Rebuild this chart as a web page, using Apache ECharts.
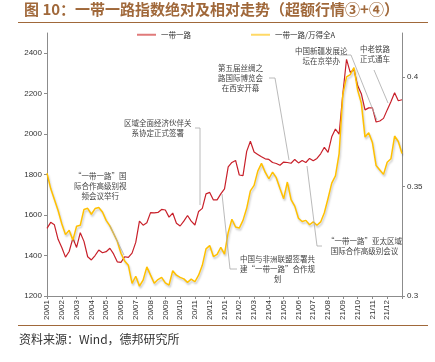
<!DOCTYPE html>
<html><head><meta charset="utf-8">
<script src="https://cdn.jsdelivr.net/npm/echarts@6/dist/echarts.min.js"></script>
<style>html,body{margin:0;padding:0;background:#fff}#c{width:435px;height:362px}</style>
</head><body><div id="c"></div>
<script>
const monthLabels = ['20/01','20/02','20/03','20/04','20/05','20/06','20/07','20/08','20/09','20/10','20/11','20/12',
  '21/01','21/02','21/03','21/04','21/05','21/06','21/07','21/08','21/09','21/10','21/11','21/12','22/01'];
const seriesNames = ['一带一路', '一带一路/万得全A'];
// weekly readings (4 per month)
const beltRoad = [1534,1564,1552,1480,1440,1392,1420,1486,1440,1513,1470,1394,1378,1400,1427,1414,1419,1436,1408,1369,
  1366,1394,1391,1412,1465,1570,1550,1562,1612,1611,1613,1628,1625,1590,1610,1560,1546,1570,1598,1570,
  1551,1618,1633,1705,1712,1675,1675,1705,1730,1838,1860,1870,1798,1795,1915,1965,1912,1900,1888,1878,
  1875,1860,1855,1846,1862,1860,1856,1875,1858,1870,1860,1880,1868,1880,1903,1935,1910,1987,2025,2000,
  2200,2370,2305,2320,2240,2200,2120,2130,2130,2060,2065,2078,2120,2160,2205,2165,2170];
const relative = [0.3560,0.3490,0.3440,0.3390,0.3330,0.3280,0.3300,0.3255,0.3318,0.3323,0.3395,0.3400,0.3373,0.3399,0.3404,0.3383,0.3345,0.3320,0.3285,0.3250,
  0.3195,0.3160,0.3140,0.3058,0.3090,0.3045,0.3073,0.3133,0.3095,0.3058,0.3075,0.3085,0.3060,0.3050,0.3115,0.3095,0.3085,0.3078,0.3062,0.3077,
  0.3065,0.3095,0.3140,0.3215,0.3230,0.3180,0.3190,0.3222,0.3191,0.3290,0.3350,0.3315,0.3310,0.3345,0.3400,0.3480,0.3505,0.3570,0.3605,0.3565,
  0.3535,0.3565,0.3540,0.3490,0.3444,0.3520,0.3440,0.3410,0.3355,0.3340,0.3345,0.3325,0.3338,0.3323,0.3338,0.3380,0.3445,0.3515,0.3548,0.3650,
  0.3920,0.4000,0.4010,0.4042,0.3940,0.3880,0.3725,0.3745,0.3700,0.3595,0.3575,0.3555,0.3610,0.3626,0.3730,0.3705,0.3650];
const leftTicks = {min:1200, max:2500, interval:200};
const rightTicks = {min:0.3, max:0.42, interval:0.05};

const cats = beltRoad.map((v,i)=> i%4===0 ? monthLabels[i/4] : '');
const FONT = '"Noto Sans CJK SC", sans-serif';
const gray = '#8c8c8c';
const annColor = '#444';
function annText(x, y, lines, align){
  return {type:'text', left:x, top:y, style:{text:lines.join('\n'), font:'7.5px '+FONT, fill:annColor, lineHeight:10, textAlign:align||'center'}, z:10};
}
function leader(points){
  return {type:'polyline', shape:{points:points}, style:{stroke:'#a8a8a8', lineWidth:0.8, fill:null}, z:9};
}
const chart = echarts.init(document.getElementById('c'));
chart.setOption({
  animation:false,
  textStyle:{fontFamily:FONT},
  title:{text:'图 10：一带一路指数绝对及相对走势（超额行情③+④）', left:19, top:-3,
    textStyle:{fontSize:15, fontWeight:'bold', color:'#a0683a', fontFamily:FONT}},
  legend:{top:26, left:132, itemWidth:19, itemHeight:2, itemGap:60, icon:'rect',
    textStyle:{fontSize:7.5, color:'#333', fontFamily:FONT}, data:seriesNames},
  grid:{left:47, right:33, top:33, bottom:66},
  xAxis:{type:'category', data:cats, boundaryGap:false,
    axisLine:{lineStyle:{color:gray}},
    axisTick:{interval:(i)=>i%4===0, length:3, lineStyle:{color:gray}},
    axisLabel:{interval:(i)=>i%4===0 && i<96, rotate:90, fontSize:8, color:'#333', fontFamily:'Liberation Sans, Arial', margin:4}},
  yAxis:[
    {type:'value', min:leftTicks.min, max:leftTicks.max, interval:leftTicks.interval, splitLine:{show:false},
      axisLine:{show:true, lineStyle:{color:gray}}, axisTick:{show:true, length:3, lineStyle:{color:gray}},
      axisLabel:{showMaxLabel:false, fontSize:8, color:'#333', fontFamily:'Liberation Sans, Arial', margin:5, formatter:(v)=>String(v)}},
    {type:'value', min:rightTicks.min, max:rightTicks.max, interval:rightTicks.interval, splitLine:{show:false},
      axisLine:{show:true, lineStyle:{color:gray}}, axisTick:{show:true, length:3, lineStyle:{color:gray}},
      axisLabel:{showMaxLabel:false, fontSize:8, color:'#333', fontFamily:'Liberation Sans, Arial', margin:5}}
  ],
  series:[
    {name:seriesNames[0], type:'line', yAxisIndex:0, data:beltRoad, symbol:'none', smooth:false,
      lineStyle:{color:'#c8202a', width:1.2}, itemStyle:{color:'#e07a7a'}},
    {name:seriesNames[1], type:'line', yAxisIndex:1, data:relative, symbol:'none', smooth:false,
      lineStyle:{color:'#ffc000', width:1.5, shadowColor:'rgba(0,0,0,0.22)', shadowBlur:2, shadowOffsetX:1, shadowOffsetY:2},
      itemStyle:{color:'#ffd966'}}
  ],
  graphic:[
    {type:'line', shape:{x1:18, y1:22.5, x2:428, y2:22.5}, style:{stroke:'#a0683a', lineWidth:1.2}},
    {type:'line', shape:{x1:18, y1:325.5, x2:428, y2:325.5}, style:{stroke:'#a0683a', lineWidth:1.2}},
    {type:'text', left:19, top:333, style:{text:'资料来源：Wind，德邦研究所', font:'12px '+FONT, fill:'#333'}},
    annText(74, 171, ['“一带一路”国','际合作高级别视','频会议举行']),
    leader([[110,226],[124,255]]),
    annText(124, 118, ['区域全面经济伙伴关','系协定正式签署']),
    leader([[195,128],[200,128],[200,205]]),
    annText(218, 63, ['第五届丝绸之','路国际博览会','在西安开幕']),
    leader([[269,78],[275,78],[289,160]]),
    annText(295, 46, ['中国新疆发展论','坛在京举办']),
    leader([[340,55],[351,55],[377,120]]),
    annText(360, 44, ['中老铁路','正式通车']),
    leader([[374,70],[388,103]]),
    annText(240, 254, ['中国与非洲联盟签署共','建“一带一路”合作规','划']),
    leader([[237,269],[230,269],[222,194]]),
    annText(327, 236, ['“一带一路”亚太区域','国际合作高级别会议']),
    leader([[322,246],[317,246],[307,166]])
  ]
});
</script></body></html>
